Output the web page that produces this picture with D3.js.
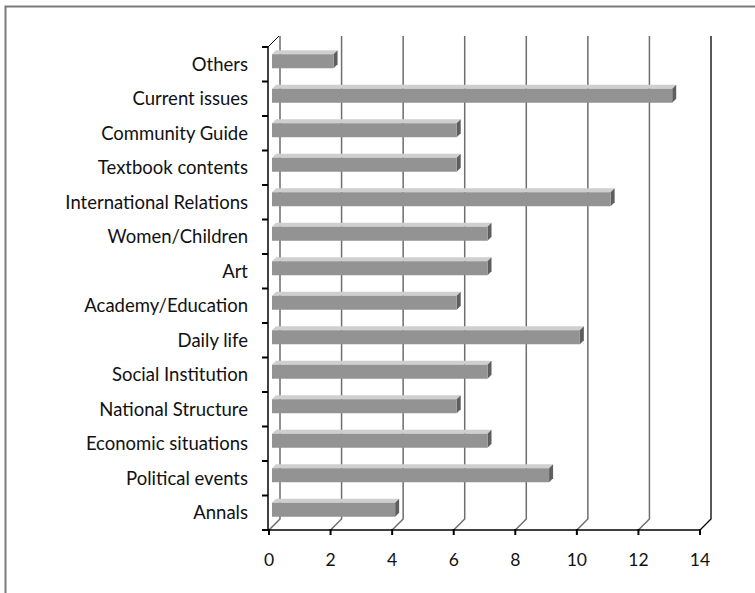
<!DOCTYPE html>
<html>
<head>
<meta charset="utf-8">
<script src="https://cdn.jsdelivr.net/npm/d3@7"></script>
<style>
  body { margin: 0; background: #fff; }
  svg { display: block; }
  text { font-family: Lato, "Open Sans", sans-serif; fill: #111; }
</style>
</head>
<body>
<div id="chart"></div>
<script>
// get the data (top to bottom as drawn)
var categories = ["Others", "Current issues", "Community Guide", "Textbook contents",
    "International Relations", "Women/Children", "Art", "Academy/Education",
    "Daily life", "Social Institution", "National Structure", "Economic situations",
    "Political events", "Annals"];
var values = [2, 13, 6, 6, 11, 7, 7, 6, 10, 7, 6, 7, 9, 4];
var ticks = [0, 2, 4, 6, 8, 10, 12, 14];

var width = 755, height = 593;
var depth = 11;  // 3d offset of the back wall

var svg = d3.select("#chart").append("svg")
    .attr("width", width)
    .attr("height", height);

// outer frame (only top and left show)
svg.append("path")
    .attr("d", "M5.5,600V6.5H760")
    .attr("fill", "none")
    .attr("stroke", "#7a7a7a")
    .attr("stroke-width", 2);

var x = d3.scaleLinear().domain([0, 14]).range([269, 700]);
var y = d3.scaleBand().domain(categories).range([47, 530]);

// gridlines on the back wall + floor diagonals
var grid = svg.append("g");
ticks.forEach(function (t) {
    var fx = x(t);
    grid.append("path")
        .attr("d", "M" + fx + ",530L" + (fx + depth) + "," + (530 - depth) +
            "V" + (47 - depth))
        .attr("fill", "none")
        .attr("stroke", t == 14 ? "#000" : "#6e6e6e")
        .attr("stroke-width", t == 14 ? 1.3 : 1.5);
});

// left axis top diagonal
svg.append("path")
    .attr("d", "M268," + 47 + "L" + (268 + depth) + "," + (47 - depth))
    .attr("stroke", "#000")
    .attr("fill", "none");

// bars
var bh = 14, bd = 4, off = 3;
var bar = svg.append("g").selectAll("g")
    .data(categories)
    .enter().append("g");

bar.each(function (c, i) {
    var g = d3.select(this);
    var x0 = x(0) + off,
        x1 = x(values[i]) + off,
        cy = y(c) + y.bandwidth() / 2 - off,
        y0 = cy - bh / 2,
        y1 = cy + bh / 2;
    // top face
    g.append("path")
        .attr("d", "M" + x0 + "," + y0 + "L" + (x0 + bd) + "," + (y0 - bd) +
            "H" + (x1 + bd) + "L" + x1 + "," + y0 + "Z")
        .attr("fill", "#cfcfcf");
    // side face
    g.append("path")
        .attr("d", "M" + x1 + "," + y0 + "L" + (x1 + bd) + "," + (y0 - bd) +
            "V" + (y1 - bd) + "L" + x1 + "," + y1 + "Z")
        .attr("fill", "#5e5e5e");
    // front face
    g.append("rect")
        .attr("x", x0)
        .attr("y", y0)
        .attr("width", x1 - x0)
        .attr("height", bh)
        .attr("fill", "#939393");
});

// y axis line + ticks
var yb = categories.map(function (c) { return y(c); }).concat([530]);
svg.append("line")
    .attr("x1", 268).attr("x2", 268)
    .attr("y1", 47).attr("y2", 530)
    .attr("stroke", "#000").attr("stroke-width", 1.5);
svg.append("g").selectAll("line")
    .data(yb)
    .enter().append("line")
    .attr("x1", 262).attr("x2", 268)
    .attr("y1", function (d) { return d; })
    .attr("y2", function (d) { return d; })
    .attr("stroke", "#000").attr("stroke-width", 2);

// x axis line + ticks
svg.append("line")
    .attr("x1", 268).attr("x2", x(14))
    .attr("y1", 530).attr("y2", 530)
    .attr("stroke", "#000").attr("stroke-width", 1.5);
svg.append("g").selectAll("line")
    .data(ticks)
    .enter().append("line")
    .attr("x1", function (d) { return x(d); })
    .attr("x2", function (d) { return x(d); })
    .attr("y1", 529).attr("y2", 535)
    .attr("stroke", "#000").attr("stroke-width", 2);

// tick labels
svg.append("g").selectAll("text")
    .data(ticks)
    .enter().append("text")
    .attr("x", function (d) { return x(d); })
    .attr("y", 566)
    .attr("text-anchor", "middle")
    .style("font-size", "17.5px")
    .text(function (d) { return d; });

// category labels
svg.append("g").selectAll("text")
    .data(categories)
    .enter().append("text")
    .attr("x", 248)
    .attr("y", function (d) { return y(d) + y.bandwidth() / 2; })
    .attr("dy", "0.35em")
    .attr("text-anchor", "end")
    .style("font-size", "18.5px")
    .text(function (d) { return d; });
</script>
</body>
</html>
